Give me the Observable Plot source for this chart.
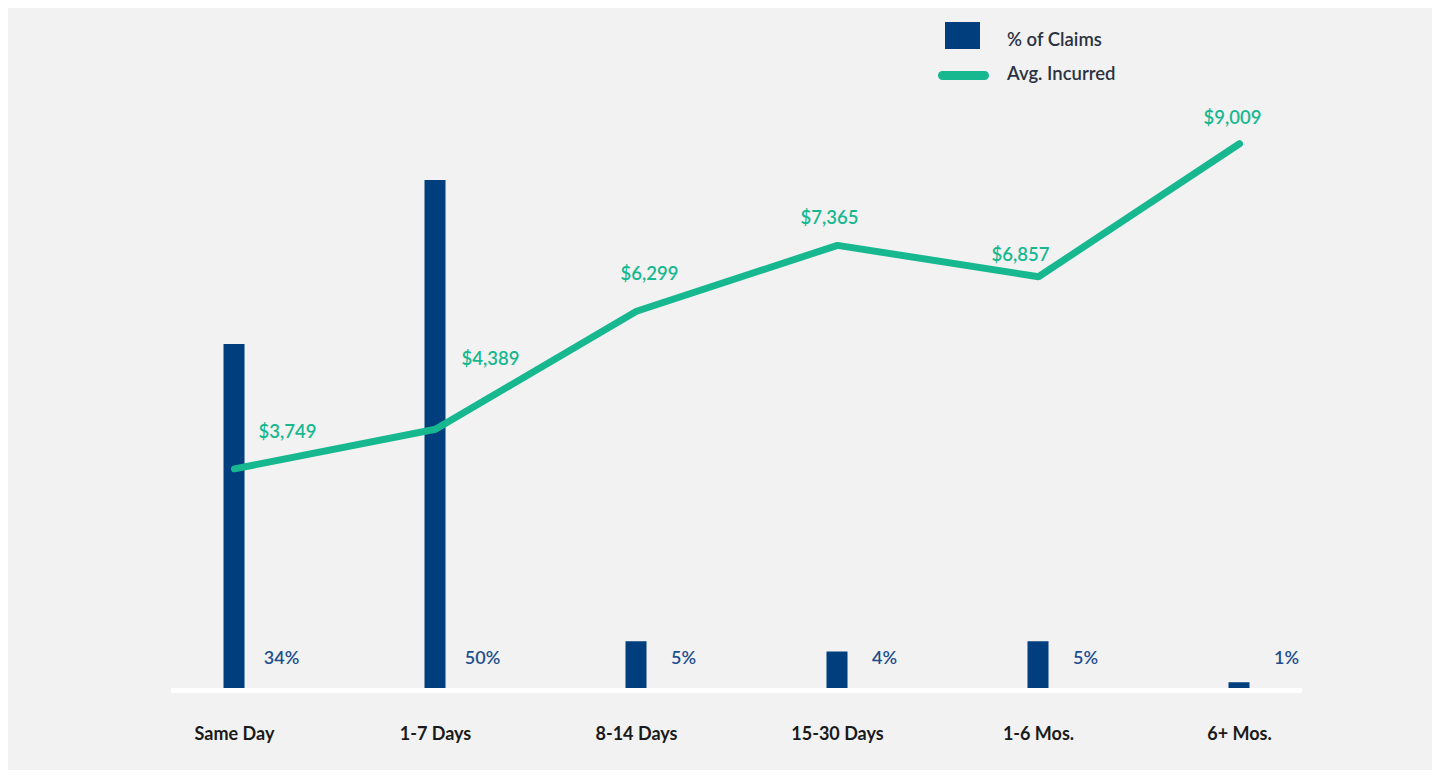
<!DOCTYPE html>
<html>
<head>
<meta charset="utf-8">
<script src="https://cdn.jsdelivr.net/npm/d3@7"></script>
<script src="https://cdn.jsdelivr.net/npm/@observablehq/plot@0.6"></script>
<style>
  html, body { margin: 0; padding: 0; background: #ffffff; }
  #wrap { position: relative; width: 1438px; height: 776px; overflow: hidden; font-family: Lato, "Open Sans", sans-serif; }
  #panel { position: absolute; left: 8px; top: 8px; width: 1424px; height: 762px; background: #f2f2f2; }
  .layer { position: absolute; left: 0; top: 0; }
  .lg-sq { position: absolute; left: 945px; top: 22px; width: 35px; height: 27px; background: #003e7e; }
  .lg-ln { position: absolute; left: 938px; top: 71px; width: 51px; height: 9px; border-radius: 4.5px; background: #17b890; }
  .lg-tx { position: absolute; left: 1007px; font-size: 18.5px; font-weight: 600; color: #2b3342; line-height: 22px; }
</style>
</head>
<body>
<div id="wrap">
  <div id="panel"></div>
  <div id="bars" class="layer"></div>
  <div id="line" class="layer"></div>
  <div class="lg-sq"></div>
  <div class="lg-tx" style="top:28px">% of Claims</div>
  <div class="lg-ln"></div>
  <div class="lg-tx" style="top:62px">Avg. Incurred</div>
</div>
<script>
// ---- data ----
const categories = ["Same Day", "1-7 Days", "8-14 Days", "15-30 Days", "1-6 Mos.", "6+ Mos."];
const pctClaims = [34, 50, 5, 4, 5, 1];
const avgIncurred = [3749, 4389, 6299, 7365, 6857, 9009];
// label nudges for the avg. incurred values (layout only)
const labelDx = [53, 55, 13, -8, -18, -7];
const labelDy = [-37, -70, -37, -27, -22, -26];

const rows = categories.map((c, i) => ({cat: c, pct: pctClaims[i], avg: avgIncurred[i]}));

const BLUE = "#003e7e";
const BLUE_TXT = "#1d4f8e";
const GREEN = "#17b890";
const FONT = "Lato, 'Open Sans', sans-serif";

const xScale = {type: "band", domain: categories, paddingInner: 0.8955, paddingOuter: 0.2612, round: false, axis: null};
const common = {
  width: 1438, height: 776,
  marginLeft: 171, marginRight: 136,
  style: {background: "transparent", overflow: "visible", fontFamily: FONT}
};

const barPlot = Plot.plot({
  ...common,
  marginTop: 180, marginBottom: 83.5,
  x: xScale,
  y: {domain: [0, 50], axis: null},
  marks: [
    Plot.barY(rows, {x: "cat", y: "pct", fill: BLUE}),
    Plot.ruleY([0], {stroke: "#ffffff", strokeWidth: 5, dy: -2.5}),
    Plot.text(rows, {x: "cat", text: d => d.pct + "%", frameAnchor: "bottom", dy: -34.5, dx: 47,
      fill: BLUE_TXT, fontSize: 18, fontWeight: 600, lineAnchor: "middle"}),
    Plot.text(rows, {x: "cat", text: "cat", frameAnchor: "bottom", dy: 41.5,
      fill: "#1a1a1a", fontSize: 18, fontWeight: 700, lineAnchor: "middle"})
  ]
});
document.getElementById("bars").appendChild(barPlot);

const linePlot = Plot.plot({
  ...common,
  marginTop: 82, marginBottom: 76,
  x: xScale,
  y: {domain: [0, 10000], axis: null},
  marks: [
    Plot.line(rows, {x: "cat", y: "avg", stroke: GREEN, strokeWidth: 7,
      strokeLinecap: "round", strokeLinejoin: "miter"}),
    ...rows.map((r, i) => Plot.text([r], {x: "cat", y: "avg", text: d => d3.format("$,")(d.avg),
      dx: labelDx[i], dy: labelDy[i], fill: GREEN, fontSize: 18.5, fontWeight: 600, lineAnchor: "middle"}))
  ]
});
document.getElementById("line").appendChild(linePlot);
</script>
</body>
</html>
